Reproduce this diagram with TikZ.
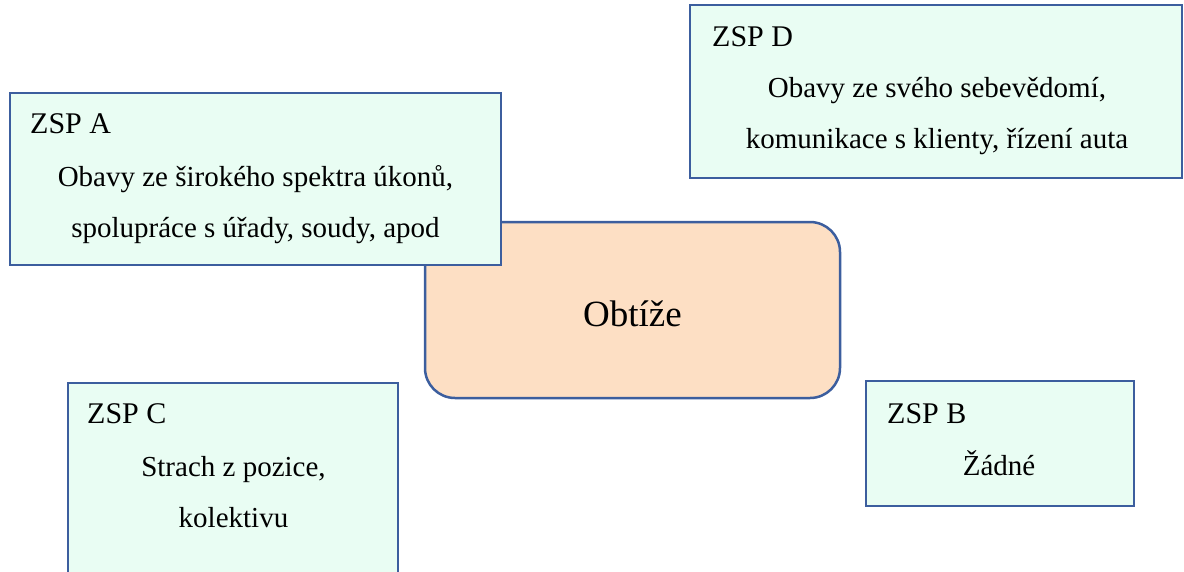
\documentclass[tikz,border=0pt]{standalone}
\usepackage{fontspec}
\setmainfont{Liberation Serif}
\usepackage{tikz}

\definecolor{zspfill}{HTML}{E9FDF3}
\definecolor{zspline}{HTML}{3C5E9E}
\definecolor{obtfill}{HTML}{FDDFC4}

\tikzset{
    zspbox/.style={draw=zspline, fill=zspfill, line width=2.5pt, inner sep=0pt},
    zsptitle/.style={anchor=base west, inner sep=0pt, font=\fontsize{30}{36}\selectfont},
    zsptext/.style={anchor=base, inner sep=0pt, align=center, font=\fontsize{29}{51}\selectfont},
}

\begin{document}
\begin{tikzpicture}[x=1pt, y=-1pt]

    \clip (0,0) rectangle (1184,571);

    \node[draw=zspline, fill=obtfill, line width=2.5pt, rounded corners=30pt,
          minimum width=415pt, minimum height=176pt] (obtize) at (632.5,310) {};
    \node[anchor=base, font=\fontsize{37}{44}\selectfont] (obtizetext) at (632.5,326) {Obtíže};

    \node[zspbox, minimum width=491pt, minimum height=172pt] (zspA) at (255.5,179) {};
    \node[zsptitle] (zspAtitle) at (30,133) {ZSP A};
    \node[zsptext] (zspAtext) at (255.5,237) {Obavy ze širokého spektra úkonů,\\spolupráce s úřady, soudy, apod};

    \node[zspbox, minimum width=492pt, minimum height=173pt] (zspD) at (936,91.5) {};
    \node[zsptitle] (zspDtitle) at (712,46) {ZSP D};
    \node[zsptext] (zspDtext) at (937,148) {Obavy ze svého sebevědomí,\\komunikace s klienty, řízení auta};

    \node[zspbox, minimum width=330pt, minimum height=217pt] (zspC) at (233,491.5) {};
    \node[zsptitle] (zspCtitle) at (87,423) {ZSP C};
    \node[zsptext] (zspCtext) at (233.5,527) {Strach z pozice,\\kolektivu};

    \node[zspbox, minimum width=268pt, minimum height=125pt] (zspB) at (1000,443.5) {};
    \node[zsptitle] (zspBtitle) at (887,423) {ZSP B};
    \node[zsptext] (zspBtext) at (999,475) {Žádné};

\end{tikzpicture}
\end{document}
